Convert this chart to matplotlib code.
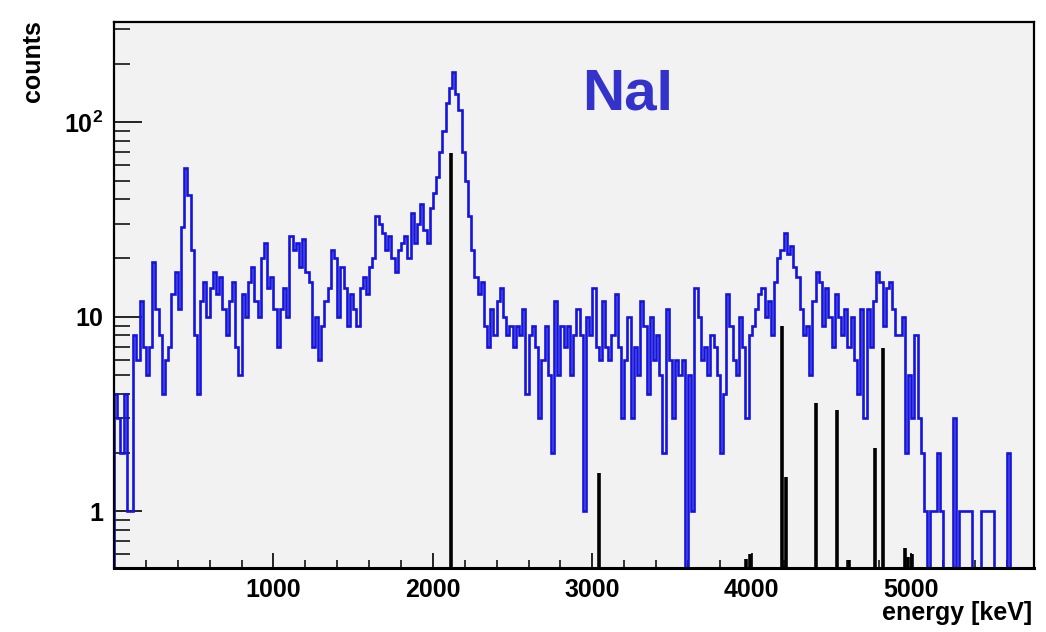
import numpy as np
import matplotlib
matplotlib.use("Agg")
import matplotlib.pyplot as plt
from matplotlib.ticker import MultipleLocator, FixedLocator, NullFormatter

plt.rcParams['font.family'] = ['Liberation Sans', 'DejaVu Sans']
plt.rcParams['font.weight'] = 'bold'
plt.rcParams['mathtext.fontset'] = 'custom'
plt.rcParams['mathtext.rm'] = 'Liberation Sans:bold'
plt.rcParams['mathtext.it'] = 'Liberation Sans:bold'
plt.rcParams['mathtext.bf'] = 'Liberation Sans:bold'

# measured NaI spectrum, 20 keV bins starting at 0 keV
bin_width = 20
counts = [
    4, 3, 2, 4, 1, 1, 8, 6, 12, 7,            # 0-180
    5, 7, 19, 11, 8, 4, 6, 7, 13, 17,         # 200-380
    11, 29, 58, 42, 22, 8, 4, 12, 15, 10,     # 400-580
    14, 17, 13, 16, 11, 8, 12, 15, 7, 5,      # 600-780
    13, 10, 15, 18, 12, 10, 20, 24, 14, 16,   # 800-980
    11, 7, 11, 14, 10, 26, 22, 24, 18, 25,    # 1000-1180
    17, 15, 7, 10, 6, 9, 12, 14, 22, 20,      # 1200-1380
    10, 18, 14, 9, 13, 11, 9, 14, 16, 13,     # 1400-1580
    18, 20, 33, 30, 27, 22, 26, 20, 17, 22,   # 1600-1780
    24, 26, 20, 34, 24, 30, 38, 28, 24, 36,   # 1800-1980
    43, 52, 70, 90, 125, 150, 180, 140, 115, 70,  # 2000-2180
    50, 33, 22, 16, 13, 15, 9, 7, 11, 8,      # 2200-2380
    12, 14, 10, 8, 9, 7, 9, 8, 11, 4,         # 2400-2580
    8, 9, 7, 3, 6, 9, 5, 2, 12, 5,            # 2600-2780
    9, 7, 9, 5, 8, 11, 8, 1, 10, 8,           # 2800-2980
    14, 7, 6, 12, 7, 6, 8, 13, 7, 3,          # 3000-3180
    6, 10, 3, 7, 5, 12, 9, 4, 10, 6,          # 3200-3380
    8, 5, 2, 11, 6, 3, 6, 5, 6, 0,            # 3400-3580
    5, 1, 14, 10, 6, 7, 5, 8, 7, 5,           # 3600-3780
    2, 4, 13, 9, 6, 5, 10, 7, 3, 8,           # 3800-3980
    9, 11, 13, 14, 10, 12, 8, 15, 20, 22,     # 4000-4180
    27, 21, 23, 18, 16, 11, 8, 9, 5, 12,      # 4200-4380
    17, 15, 9, 14, 10, 7, 13, 10, 8, 11,      # 4400-4580
    7, 10, 6, 4, 11, 3, 11, 7, 12, 17,        # 4600-4780
    15, 9, 14, 15, 11, 8, 8, 10, 2, 5,        # 4800-4980
    3, 8, 3, 2, 1, 0, 1, 1, 2, 1,             # 5000-5180
    0, 0, 0, 3, 0, 1, 1, 1, 1, 0,             # 5200-5380
    0, 0, 1, 1, 1, 1, 0, 0, 0, 0,             # 5400-5580
    2, 0, 0, 0, 0, 0, 0, 0,                   # 5600-5740
]

# simulated line energies (black sticks)
stick_energy = [2115, 3043, 3965, 3990, 4190, 4215, 4400, 4536, 4611,
                4774, 4824, 4962, 4980, 5006]
stick_height = [69, 1.57, 0.57, 0.6, 8.9, 1.5, 3.6, 3.3, 0.56,
                2.1, 6.9, 0.65, 0.58, 0.6]

counts = np.array(counts, dtype=float)
edges = np.arange(len(counts) + 1) * bin_width
shown = np.where(counts > 0, counts, 1e-2)

W, H = 1046, 632
fig = plt.figure(figsize=(W / 100, H / 100), dpi=100)
ax = fig.add_axes([114 / W, 1 - 568 / H, (1034 - 114) / W, (568 - 22) / H])
ax.set_facecolor('#f2f2f2')

ax.stairs(shown, edges, baseline=1e-2, color='#1414dc', lw=1.9, zorder=2)
ax.vlines(stick_energy, 1e-2, stick_height, color='black', lw=2.6, zorder=3)

ax.set_yscale('log')
ax.set_xlim(0, 5770)
ax.set_ylim(0.51, 327)

ax.xaxis.set_major_locator(FixedLocator([1000, 2000, 3000, 4000, 5000]))
ax.xaxis.set_minor_locator(MultipleLocator(200))
ax.set_yticks([1, 10, 100])
ax.set_yticklabels(['1', '10', '10$^{2}$'])
minor_y = [m * 10.0 ** d for d in (-1, 0, 1, 2) for m in range(2, 10)]
ax.yaxis.set_minor_locator(FixedLocator(minor_y))
ax.yaxis.set_minor_formatter(NullFormatter())

ax.tick_params(axis='x', which='major', direction='in', length=11, width=1.2,
               labelsize=18, pad=7, top=False)
ax.tick_params(axis='x', which='minor', direction='in', length=6, width=1.1, top=False)
ax.tick_params(axis='y', which='major', direction='in', length=20, width=1.2,
               labelsize=18, pad=8, right=False)
ax.tick_params(axis='y', which='minor', direction='in', length=11.5, width=1.1, right=False)
for lbl in ax.get_xticklabels() + ax.get_yticklabels():
    lbl.set_fontweight('bold')

for s in ax.spines.values():
    s.set_linewidth(1.6)
ax.spines['bottom'].set_linewidth(2.2)

fig.text(33 / W, 1 - 20 / H, 'counts', rotation=90, ha='center', va='top',
         fontsize=18, fontweight='bold')
fig.text(1032 / W, 1 - 601 / H, 'energy [keV]', ha='right', va='top',
         fontsize=18, fontweight='bold')
fig.text(627 / W, 1 - 110 / H, 'NaI', ha='center', va='baseline',
         fontsize=42, fontweight='bold', color='#3333cc')

fig.savefig('out.png', dpi=100, facecolor='white')
